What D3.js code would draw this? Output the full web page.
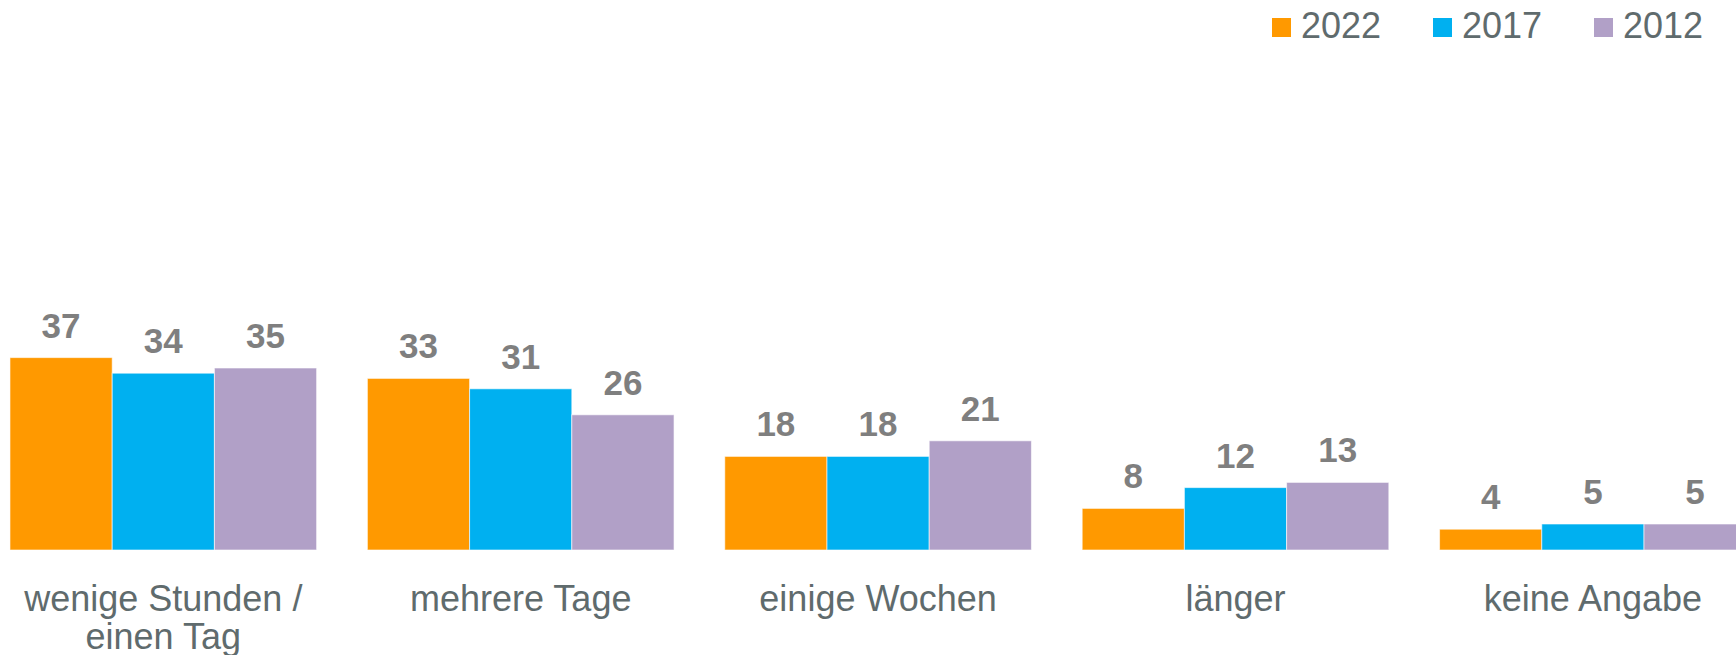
<!DOCTYPE html>
<html>
<head>
<meta charset="utf-8">
<script src="https://cdn.jsdelivr.net/npm/d3@7"></script>
<style>
html,body{margin:0;padding:0;background:#fff;overflow:hidden;}
svg{display:block;}
</style>
</head>
<body>
<svg id="chart" width="1736" height="655"></svg>
<script>
const categories = [["wenige Stunden /", "einen Tag"], ["mehrere Tage"], ["einige Wochen"], ["länger"], ["keine Angabe"]];
const seriesNames = ["2022", "2017", "2012"];
const values2022 = [37, 33, 18, 8, 4];
const values2017 = [34, 31, 18, 12, 5];
const values2012 = [35, 26, 21, 13, 5];
const seriesColors = ["#FF9900", "#00B0F0", "#B1A0C7"];

const seriesValues = [values2022, values2017, values2012];
const svg = d3.select("#chart");
const baseY = 550;

const catIdx = categories.map((c, i) => i);
const step = 357.4;
const x0 = -15.4;
const x = d3.scaleBand().domain(catIdx).range([x0, x0 + step * 5]).paddingInner(0.142).paddingOuter(0.071);
const xs = d3.scaleBand().domain(d3.range(seriesNames.length)).range([0, x.bandwidth()]).padding(0);
const y = d3.scaleLinear().domain([0, 100]).range([baseY, baseY - 520]);

const groups = svg.append("g").selectAll("g").data(catIdx).join("g")
  .attr("transform", i => `translate(${x(i)},0)`);

groups.selectAll("rect").data(i => seriesValues.map((s, k) => ({k, v: s[i]}))).join("rect")
  .attr("x", d => xs(d.k))
  .attr("y", d => y(d.v))
  .attr("width", xs.bandwidth())
  .attr("height", d => y(0) - y(d.v))
  .attr("fill", d => seriesColors[d.k])
  .attr("stroke", "rgba(255,255,255,0.6)")
  .attr("stroke-width", 1);

groups.selectAll("text.val").data(i => seriesValues.map((s, k) => ({k, v: s[i]}))).join("text")
  .attr("class", "val")
  .attr("x", d => xs(d.k) + xs.bandwidth() / 2)
  .attr("y", d => y(d.v) - 20)
  .attr("text-anchor", "middle")
  .attr("font-family", "Liberation Sans, Arial, sans-serif")
  .attr("font-weight", "bold")
  .attr("font-size", 35)
  .attr("fill", "#7F7F7F")
  .text(d => d.v);

// category axis labels
const catText = svg.append("g").selectAll("text").data(catIdx).join("text")
  .attr("x", i => x(i) + x.bandwidth() / 2)
  .attr("y", 611)
  .attr("text-anchor", "middle")
  .attr("font-family", "Liberation Sans, Arial, sans-serif")
  .attr("font-size", 36)
  .attr("fill", "#5F6B6D");
catText.selectAll("tspan").data(i => categories[i].map((t, j) => ({t, j}))).join("tspan")
  .attr("x", function() { return d3.select(this.parentNode).attr("x"); })
  .attr("dy", d => d.j === 0 ? 0 : 38)
  .text(d => d.t);

// legend
const legendX = [1272, 1433, 1594];
const lg = svg.append("g").selectAll("g").data(seriesNames).join("g")
  .attr("transform", (d, i) => `translate(${legendX[i]},18)`);
lg.append("rect").attr("width", 19).attr("height", 19).attr("fill", (d, i) => seriesColors[i]);
lg.append("text").attr("x", 29).attr("y", 20)
  .attr("font-family", "Liberation Sans, Arial, sans-serif")
  .attr("font-size", 36)
  .attr("fill", "#5F6B6D")
  .text(d => d);
</script>
</body>
</html>
